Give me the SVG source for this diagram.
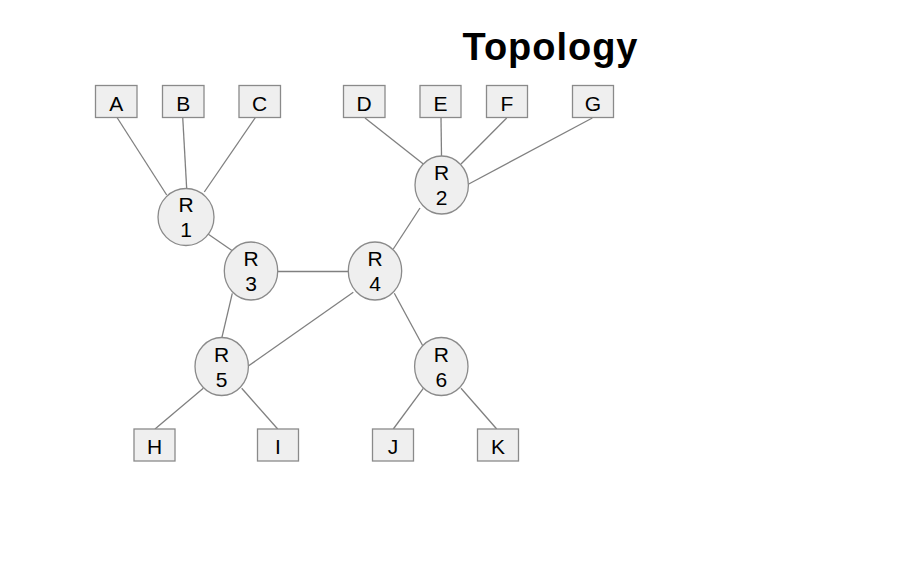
<svg xmlns="http://www.w3.org/2000/svg" width="911" height="567" viewBox="0 0 911 567">
<style>
.box{fill:#efefef;stroke:#8a8a8a;stroke-width:1.3}
.rt{fill:#efefef;stroke:#8a8a8a;stroke-width:1.3}
.lbl{font-family:"Liberation Sans",Arial,sans-serif;font-size:21px;fill:#000;text-anchor:middle}
.ln{stroke:#808080;stroke-width:1.3;fill:none}
.title{font-family:"Liberation Sans",Arial,sans-serif;font-size:38px;font-weight:bold;fill:#000;text-anchor:middle}
</style>
<rect width="911" height="567" fill="#fff"/>
<text class="title" x="550" y="60" textLength="175">Topology</text>
<g id="connectors">
<line class="ln" x1="116.7" y1="117" x2="166.7" y2="195"/>
<line class="ln" x1="182.7" y1="117" x2="186.7" y2="189"/>
<line class="ln" x1="255.7" y1="117" x2="204.3" y2="192"/>
<line class="ln" x1="365" y1="118" x2="423.3" y2="164"/>
<line class="ln" x1="441" y1="118" x2="441.5" y2="156"/>
<line class="ln" x1="506.7" y1="118" x2="461" y2="164"/>
<line class="ln" x1="592.3" y1="118" x2="468.3" y2="184.3"/>
<line class="ln" x1="208" y1="234" x2="232.3" y2="250.7"/>
<line class="ln" x1="277.7" y1="271.5" x2="348.3" y2="271.5"/>
<line class="ln" x1="393.3" y1="249" x2="420" y2="208"/>
<line class="ln" x1="232.3" y1="293.3" x2="221.7" y2="338.3"/>
<line class="ln" x1="353.3" y1="292.3" x2="248.3" y2="366"/>
<line class="ln" x1="394.3" y1="293.3" x2="423.3" y2="346.7"/>
<line class="ln" x1="203.3" y1="388.3" x2="155" y2="429"/>
<line class="ln" x1="241.7" y1="388.3" x2="277.7" y2="429"/>
<line class="ln" x1="423.3" y1="388.3" x2="393.3" y2="429"/>
<line class="ln" x1="461" y1="388.3" x2="496.7" y2="429"/>
</g>
<g id="A"><rect class="box" x="95.5" y="85.5" width="41.5" height="32"/><text class="lbl" x="116.2" y="110.5">A</text></g>
<g id="B"><rect class="box" x="162.5" y="85.5" width="41.5" height="32"/><text class="lbl" x="183.2" y="110.5">B</text></g>
<g id="C"><rect class="box" x="239" y="85.5" width="41.5" height="32"/><text class="lbl" x="259.7" y="110.5">C</text></g>
<g id="D"><rect class="box" x="343.5" y="85.5" width="41.5" height="32"/><text class="lbl" x="364.2" y="110.5">D</text></g>
<g id="E"><rect class="box" x="420" y="85.5" width="41" height="32"/><text class="lbl" x="440.5" y="110.5">E</text></g>
<g id="F"><rect class="box" x="486.5" y="85.5" width="41" height="32"/><text class="lbl" x="507" y="110.5">F</text></g>
<g id="G"><rect class="box" x="572.5" y="85.5" width="41" height="32"/><text class="lbl" x="593" y="110.5">G</text></g>
<g id="H"><rect class="box" x="134" y="429" width="41" height="32"/><text class="lbl" x="154.5" y="454">H</text></g>
<g id="I"><rect class="box" x="257.5" y="429" width="41" height="32"/><text class="lbl" x="278" y="454">I</text></g>
<g id="J"><rect class="box" x="372.5" y="429" width="41" height="32"/><text class="lbl" x="393" y="454">J</text></g>
<g id="K"><rect class="box" x="477.5" y="429" width="41" height="32"/><text class="lbl" x="498" y="454">K</text></g>
<g id="R1"><ellipse class="rt" cx="186" cy="217" rx="28" ry="28.5"/><text class="lbl" x="186" y="212">R</text><text class="lbl" x="186" y="237">1</text></g>
<g id="R2"><ellipse class="rt" cx="441.7" cy="185" rx="26.7" ry="29"/><text class="lbl" x="441.7" y="180">R</text><text class="lbl" x="441.7" y="205">2</text></g>
<g id="R3"><ellipse class="rt" cx="251" cy="271" rx="26.7" ry="29"/><text class="lbl" x="251" y="266">R</text><text class="lbl" x="251" y="291">3</text></g>
<g id="R4"><ellipse class="rt" cx="375" cy="271" rx="26.7" ry="29"/><text class="lbl" x="375" y="266">R</text><text class="lbl" x="375" y="291">4</text></g>
<g id="R5"><ellipse class="rt" cx="221.7" cy="366.5" rx="26.7" ry="29"/><text class="lbl" x="221.7" y="361.5">R</text><text class="lbl" x="221.7" y="386.5">5</text></g>
<g id="R6"><ellipse class="rt" cx="441.3" cy="366.5" rx="26.7" ry="29"/><text class="lbl" x="441.3" y="361.5">R</text><text class="lbl" x="441.3" y="386.5">6</text></g>
</svg>
